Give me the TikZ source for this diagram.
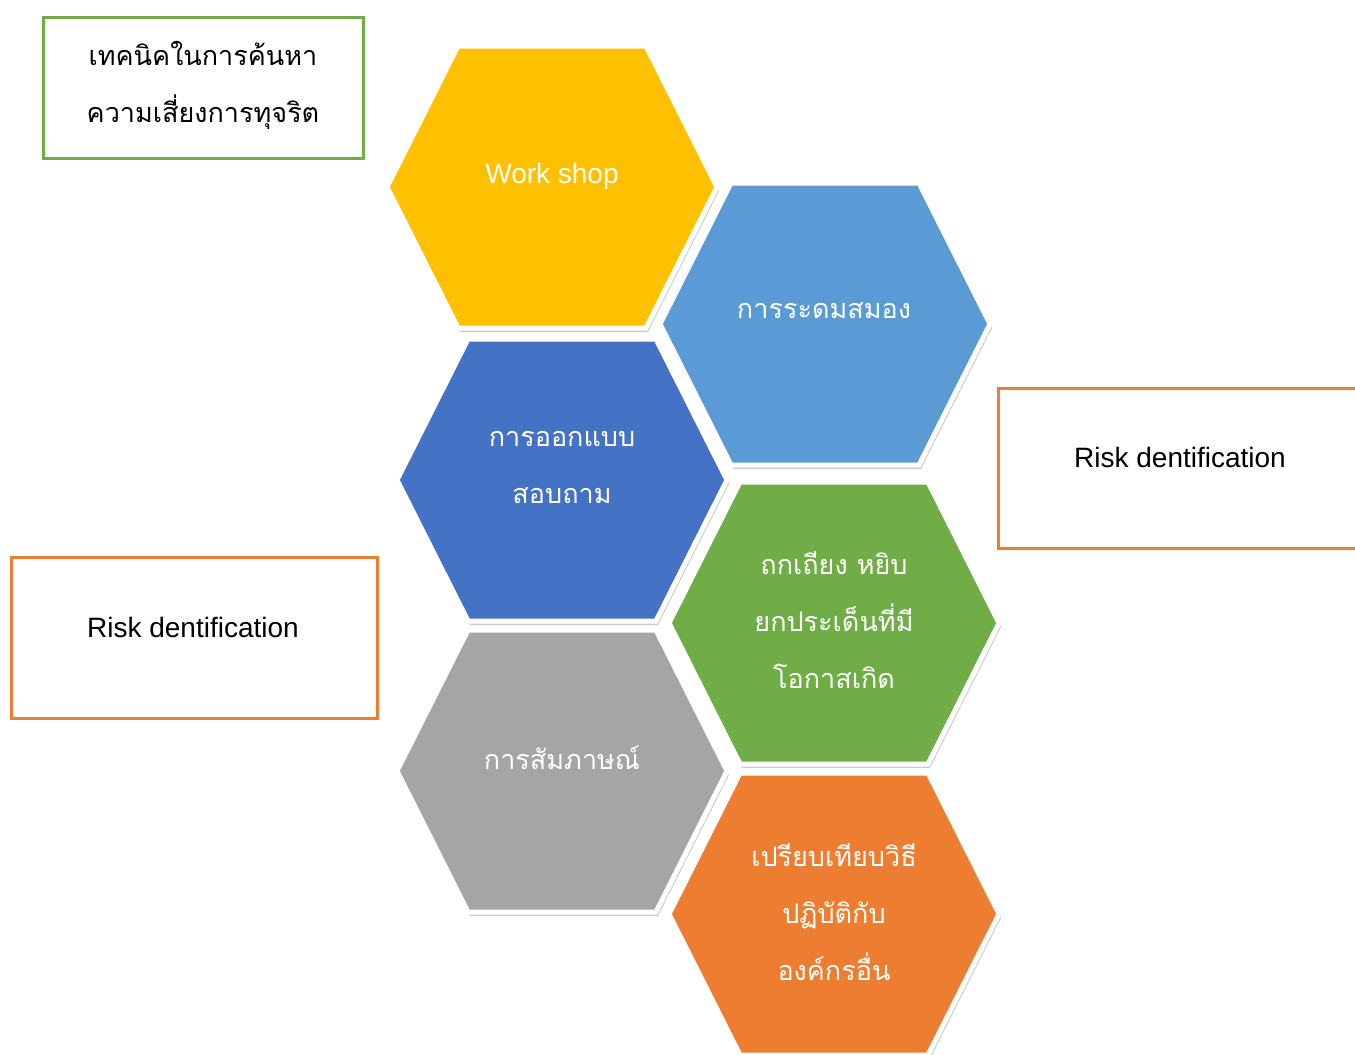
\documentclass[tikz,border=0pt]{standalone}
\usepackage{fontspec}
\setmainfont{Liberation Sans}
\newfontfamily\thaifont[Script=Thai]{Loma}
\usetikzlibrary{shadows}

\definecolor{hexyellow}{HTML}{FFC000}
\definecolor{hexlblue}{HTML}{5B9BD5}
\definecolor{hexdblue}{HTML}{4472C4}
\definecolor{hexgreen}{HTML}{70AD47}
\definecolor{hexgray}{HTML}{A5A5A5}
\definecolor{hexorange}{HTML}{ED7D31}

\begin{document}
\begin{tikzpicture}[x=1pt, y=-1pt,
		hexa/.style={draw=white, line width=5pt, line join=miter,
			drop shadow={shadow xshift=2pt, shadow yshift=-4pt, opacity=0.4}},
		hextext/.style={text=white, align=center, font=\thaifont\fontsize{27}{57}\selectfont},
		tagbox/.style={draw=#1, line width=3pt, fill=white},
		tagtext/.style={align=center, font=\fontsize{28}{57}\selectfont}]
	\useasboundingbox (0,0) rectangle (1355,1055);
	\foreach \cx/\cy/\col in {552/187/hexyellow, 825/324/hexlblue, 562/480/hexdblue,
			834/623/hexgreen, 562/771/hexgray, 834/914/hexorange}
		\draw[hexa, fill=\col] (\cx,\cy) +(-165,0) -- +(-94,-141) -- +(94,-141)
			-- +(165,0) -- +(94,141) -- +(-94,141) -- cycle;
	\node[hextext, font=\fontsize{28}{57}\selectfont] (workshop) at (552,176) {Work shop};
	\node[hextext] (brainstorm) at (824,311) {การระดมสมอง};
	\node[hextext] (survey) at (562,467) {การออกแบบ\\สอบถาม};
	\node[hextext] (debate) at (834,620) {ถกเถียง หยิบ\\ยกประเด็นที่มี\\โอกาสเกิด};
	\node[hextext] (interview) at (562,758) {การสัมภาษณ์};
	\node[hextext] (compare) at (834,912) {เปรียบเทียบวิธี\\ปฏิบัติกับ\\องค์กรอื่น};

	\node[tagbox=hexgreen, minimum width=320pt, minimum height=141pt] (titlebox) at (203,87.5) {};
	\node[tagtext, font=\thaifont\fontsize{27}{57}\selectfont] (title) at (203,85) {เทคนิคในการค้นหา\\ความเสี่ยงการทุจริต};
	\node[tagbox=hexorange, minimum width=372pt, minimum height=160pt] (riskboxR) at (1184,468) {};
	\node[tagtext] (riskR) at (1180,457) {Risk dentification};
	\node[tagbox=hexorange, minimum width=366pt, minimum height=161pt] (riskboxL) at (194,637.5) {};
	\node[tagtext] (riskL) at (193,627) {Risk dentification};
\end{tikzpicture}
\end{document}
